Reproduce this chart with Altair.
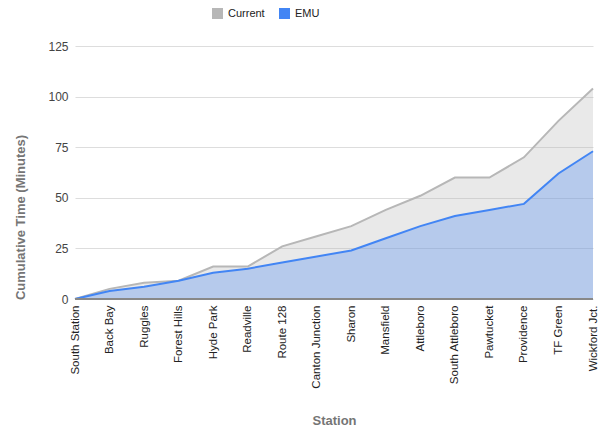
import altair as alt
import pandas as pd

stations = ["South Station", "Back Bay", "Ruggles", "Forest Hills", "Hyde Park",
            "Readville", "Route 128", "Canton Junction", "Sharon", "Mansfield",
            "Attleboro", "South Attleboro", "Pawtucket", "Providence", "TF Green",
            "Wickford Jct."]
current = [0, 5, 8, 9, 16, 16, 26, 31, 36, 44, 51, 60, 60, 70, 88, 104]
emu = [0, 4, 6, 9, 13, 15, 18, 21, 24, 30, 36, 41, 44, 47, 62, 73]
series = ["Current", "EMU"]
colors = ["#b7b7b7", "#4285f4"]
y_ticks = [0, 25, 50, 75, 100, 125]

rows = []
for s, name in zip([current, emu], series):
    for st, v in zip(stations, s):
        rows.append({"Station": st, "Series": name, "Value": v})
df = pd.DataFrame(rows)

FONT = "Liberation Sans"

x = alt.X("Station:N", sort=stations,
          scale=alt.Scale(type="point", padding=0),
          axis=alt.Axis(title="Station", labelAngle=-90, labelFontSize=11.5,
                        labelColor="#222222", labelFont=FONT, labelPadding=6,
                        ticks=False, domain=False, grid=False,
                        titleFont=FONT, titleFontSize=13, titleFontWeight="bold",
                        titleColor="#757575", titleY=121, titleBaseline="middle"))
y = alt.Y("Value:Q", stack=None,
          scale=alt.Scale(domain=[0, 125], nice=False),
          axis=alt.Axis(title="Cumulative Time (Minutes)", values=y_ticks,
                        labelFontSize=12, labelColor="#444444", labelFont=FONT,
                        labelPadding=7, ticks=False, domain=False,
                        gridColor="#dddddd", gridWidth=1,
                        titleFont=FONT, titleFontSize=13, titleFontWeight="bold",
                        titleColor="#757575", titleAngle=-90, titleX=-55,
                        titleY=171, titleAlign="center",
                        titleBaseline="middle"))
color = alt.Color("Series:N", scale=alt.Scale(domain=series, range=colors),
                  legend=alt.Legend(title=None, orient="none", direction="horizontal",
                                    legendX=137, legendY=-38, symbolType="square",
                                    symbolSize=121, symbolStrokeWidth=0,
                                    symbolOpacity=1, labelOffset=5,
                                    labelFont=FONT, labelFontSize=11,
                                    labelColor="#222222", columnPadding=14))

base = alt.Chart(df).encode(x=x, y=y, color=color)
area = base.mark_area(opacity=0.3)
line = base.mark_line(strokeWidth=2)
zero = alt.Chart(df).mark_rule(color="#888888", strokeWidth=1.5).encode(
    y=alt.datum(0))

chart = alt.layer(area, line, zero).properties(
    width=518, height=253,
    autosize=alt.AutoSizeParams(type="none"),
    padding={"left": 75, "top": 46, "right": 7, "bottom": 130},
).configure_view(stroke=None)

chart.save("out.html", embed_options={"renderer": "svg", "actions": False})
